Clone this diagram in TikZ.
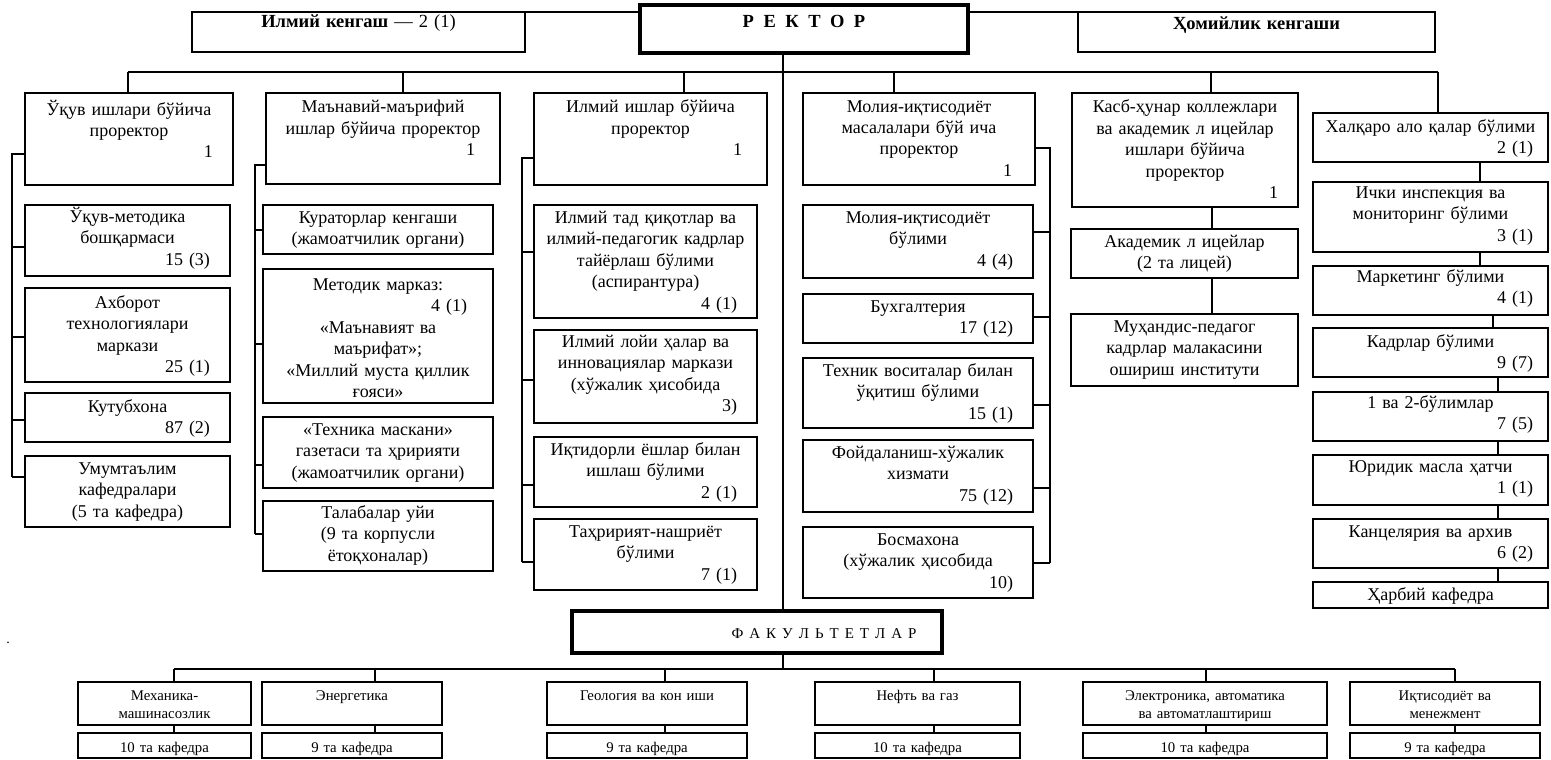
\documentclass[tikz,border=0pt]{standalone}
\usepackage{fontspec}
\setmainfont{Liberation Serif}
\newcommand\fsm{\fontsize{14.8}{18}\selectfont}
\newcommand\ftop{\fontsize{18.5}{21}\selectfont}
\tikzset{
  box/.style={draw, fill=white, line width=1.4pt, inner sep=0pt, outer sep=0pt},
  thickbox/.style={line width=3.6pt},
  txt/.style={inner sep=0pt, outer sep=0pt, align=center, font=\fontsize{18}{21.5}\selectfont},
  fac/.style={font=\fsm},
  ln/.style={line width=1.4pt},
}
\newcommand\lsp{\hspace{9.5pt}}
\newcommand\rn[2][15pt]{\mbox{}\hskip 0pt plus 1fill\relax #2\rule{#1}{0pt}}
% \bx[options]{name}{x1}{y1}{x2}{y2}{first baseline offset}{text}
\newcommand\bx[8][]{%
  \pgfmathsetmacro\bw{#5-#3}\pgfmathsetmacro\bh{#6-#4}%
  \pgfmathsetmacro\bcx{(#3+#5)/2}\pgfmathsetmacro\bcy{(#4+#6)/2}%
  \pgfmathsetmacro\tw{#5-#3-10}\pgfmathsetmacro\ty{#4+#7-16}%
  \node[box,#1,minimum width=\bw pt,minimum height=\bh pt] (#2) at (\bcx,\bcy) {};
  \node[txt,#1,draw=none,fill=none,text width=\tw pt,anchor=north] (#2t) at (\bcx,\ty) {\rule{0pt}{16pt}#8};}
\newcommand\br[4]{\coordinate (#1) at (#2,#3); \draw[ln] (#1) -- (#1 -| #4);}
\begin{document}
\begin{tikzpicture}[x=1pt,y=-1pt]
\useasboundingbox (0,0) rectangle (1551,760);

% ---------- top row
\bx{ik}{192}{12}{525}{52}{16}{\ftop\textbf{Илмий кенгаш} — 2 (1)}
\bx[thickbox]{re}{640}{5}{968}{53}{23}{\ftop\textbf{Р\lsp Е\lsp К\lsp Т\lsp О\lsp Р}}
\bx{ho}{1078}{12}{1435}{52}{18}{\ftop\textbf{Ҳомийлик кенгаши}}
\draw[ln] (ik.north east) -- (ik.north east -| re.west);
\draw[ln] (ho.north west) -- (ho.north west -| re.east);

% ---------- prorectors
\bx{uq}{25}{93}{233}{185}{22}{Ўқув ишлари бўйича\\проректор\\\rn{1}}
\bx{mm}{266}{93}{500}{184}{20}{Маънавий-маърифий\\ишлар бўйича проректор\\\rn[20pt]{1}}
\bx{il}{534}{93}{767}{185}{20}{Илмий ишлар бўйича\\проректор\\\rn[20pt]{1}}
\bx{mo}{803}{93}{1035}{185}{19}{Молия-иқтисодиёт\\масалалари бўй ича\\проректор\\\rn[18pt]{1}}
\bx{kb}{1072}{93}{1298}{207}{20}{Касб-ҳунар коллежлари\\ва академик л ицейлар\\ишлари бўйича\\проректор\\\rn{1}}
\bx{xa}{1313}{113}{1548}{162}{19}{Халқаро ало қалар бўлими\\\rn[10pt]{2 (1)}}

% ---------- column 1
\bx{um}{25}{205}{230}{276}{17}{Ўқув-методика\\бошқармаси\\\rn{15 (3)}}
\bx{ax}{25}{288}{230}{382}{20}{Ахборот\\технологиялари\\маркази\\\rn{25 (1)}}
\bx{ku}{25}{393}{230}{442}{19}{Кутубхона\\\rn{87 (2)}}
\bx{ut}{25}{456}{230}{527}{18}{Умумтаълим\\кафедралари\\(5 та кафедра)}

% ---------- column 2
\bx{kk}{263}{205}{493}{254}{18}{Кураторлар кенгаши\\(жамоатчилик органи)}
\bx{mt}{263}{269}{493}{403}{21}{Методик марказ:\\\rn[21pt]{4 (1)}\\«Маънавият ва\\маърифат»;\\«Миллий муста қиллик\\ғояси»}
\bx{tm}{263}{417}{493}{488}{18}{«Техника маскани»\\газетаси та ҳририяти\\(жамоатчилик органи)}
\bx{tu}{263}{501}{493}{571}{17}{Талабалар уйи\\(9 та корпусли\\ётоқхоналар)}

% ---------- column 3
\bx{it}{534}{205}{757}{318}{18}{Илмий тад қиқотлар ва\\илмий-педагогик кадрлар\\тайёрлаш бўлими\\(аспирантура)\\\rn{4 (1)}}
\bx{lo}{534}{330}{757}{423}{17}{Илмий лойи ҳалар ва\\инновациялар маркази\\(хўжалик ҳисобида\\\rn{3)}}
\bx{iq}{534}{437}{757}{507}{18}{Иқтидорли ёшлар билан\\ишлаш бўлими\\\rn{2 (1)}}
\bx{ta}{534}{519}{757}{590}{18}{Таҳририят-нашриёт\\бўлими\\\rn{7 (1)}}

% ---------- column 4
\bx{mb}{803}{205}{1033}{278}{18}{Молия-иқтисодиёт\\бўлими\\\rn{4 (4)}}
\bx{bu}{803}{294}{1033}{343}{18}{Бухгалтерия\\\rn{17 (12)}}
\bx{te}{803}{358}{1033}{428}{18}{Техник воситалар билан\\ўқитиш бўлими\\\rn{15 (1)}}
\bx{fo}{803}{440}{1033}{512}{18}{Фойдаланиш-хўжалик\\хизмати\\\rn{75 (12)}}
\bx{bo}{803}{527}{1033}{598}{18}{Босмахона\\(хўжалик ҳисобида\\\rn{10)}}

% ---------- column 5
\bx{al}{1071}{229}{1298}{278}{18}{Академик л ицейлар\\(2 та лицей)}
\bx{mu}{1071}{314}{1298}{386}{18}{Муҳандис-педагог\\кадрлар малакасини\\ошириш институти}

% ---------- column 6
\bx{ic}{1313}{182}{1548}{252}{16}{Ички инспекция ва\\мониторинг бўлими\\\rn[10pt]{3 (1)}}
\bx{ma}{1313}{266}{1548}{315}{16}{Маркетинг бўлими\\\rn[10pt]{4 (1)}}
\bx{kd}{1313}{328}{1548}{377}{19}{Кадрлар бўлими\\\rn[10pt]{9 (7)}}
\bx{bb}{1313}{392}{1548}{441}{16}{1 ва 2-бўлимлар\\\rn[10pt]{7 (5)}}
\bx{yu}{1313}{455}{1548}{505}{17}{Юридик масла ҳатчи\\\rn[10pt]{1 (1)}}
\bx{kn}{1313}{519}{1548}{568}{18}{Канцелярия ва архив\\\rn[10pt]{6 (2)}}
\bx{hb}{1313}{582}{1548}{608}{18}{Ҳарбий кафедра}

% ---------- faculties
\bx[thickbox]{fa}{572}{611}{942}{653}{27}{\fontsize{15}{18}\selectfont\hspace*{134pt}Ф А К У Л Ь Т Е Т Л А Р}
\bx[fac]{f1}{78}{682}{251}{725}{18}{Механика-\\машинасозлик}
\bx[fac]{k1}{78}{733}{251}{758}{19}{10 та кафедра}
\bx[fac]{f2}{262}{682}{442}{725}{18}{Энергетика}
\bx[fac]{k2}{262}{733}{442}{758}{19}{9 та кафедра}
\bx[fac]{f3}{547}{682}{747}{725}{18}{Геология ва кон иши}
\bx[fac]{k3}{547}{733}{747}{758}{19}{9 та кафедра}
\bx[fac]{f4}{815}{682}{1020}{725}{18}{Нефть ва газ}
\bx[fac]{k4}{815}{733}{1020}{758}{19}{10 та кафедра}
\bx[fac]{f5}{1083}{682}{1327}{725}{18}{Электроника, автоматика\\ва автоматлаштириш}
\bx[fac]{k5}{1083}{733}{1327}{758}{19}{10 та кафедра}
\bx[fac]{f6}{1350}{682}{1540}{725}{18}{Иқтисодиёт ва\\менежмент}
\bx[fac]{k6}{1350}{733}{1540}{758}{19}{9 та кафедра}

\node[txt, font=\fontsize{14}{16}\selectfont, anchor=base] (dot) at (8,643) {.};

% ---------- top bus
\coordinate (b1) at (128,72);  \coordinate (b2) at (403,72);
\coordinate (b3) at (684,72);  \coordinate (b4) at (894,72);
\coordinate (b5) at (1211,72); \coordinate (b6) at (1438,72);
\coordinate (rv) at (783,72);
\draw[ln] (b1) -- (b6);
\draw[ln] (b1) -- (b1 |- uq.north);
\draw[ln] (b2) -- (b2 |- mm.north);
\draw[ln] (b3) -- (b3 |- il.north);
\draw[ln] (b4) -- (b4 |- mo.north);
\draw[ln] (b5) -- (b5 |- kb.north);
\draw[ln] (b6) -- (b6 |- xa.north);
\draw[ln] (re.south -| rv) -- (fa.north -| rv);

% ---------- column spines
\coordinate (us0) at (12,154);
\br{us1}{12}{247}{um.west} \br{us2}{12}{337}{ax.west}
\br{us3}{12}{420}{ku.west} \br{us4}{12}{477}{ut.west}
\draw[ln] (us0 -| uq.west) -- (us0) -- (us4);

\coordinate (ms0) at (255,165);
\br{ms1}{255}{230}{kk.west} \br{ms2}{255}{344}{mt.west}
\br{ms3}{255}{465}{tm.west} \br{ms4}{255}{534}{tu.west}
\draw[ln] (ms0 -| mm.west) -- (ms0) -- (ms4);

\coordinate (is0) at (522,158);
\br{is1}{522}{252}{it.west} \br{is2}{522}{380}{lo.west}
\br{is3}{522}{485}{iq.west} \br{is4}{522}{562}{ta.west}
\draw[ln] (is0 -| il.west) -- (is0) -- (is4);

\coordinate (os0) at (1050,148);
\br{os1}{1050}{232}{mb.east} \br{os2}{1050}{317}{bu.east}
\br{os3}{1050}{405}{te.east} \br{os4}{1050}{488}{fo.east}
\br{os5}{1050}{563}{bo.east}
\draw[ln] (os0 -| mo.east) -- (os0) -- (os5);

\coordinate (kx) at (1212,0);
\draw[ln] (kb.south -| kx) -- (al.north -| kx);
\draw[ln] (al.south -| kx) -- (mu.north -| kx);

\coordinate (r1) at (1480,0); \coordinate (r2) at (1493,0); \coordinate (r3) at (1498,0);
\draw[ln] (xa.south -| r1) -- (ic.north -| r1);
\draw[ln] (ic.south -| r1) -- (ma.north -| r1);
\draw[ln] (ma.south -| r2) -- (kd.north -| r2);
\draw[ln] (kd.south -| r3) -- (bb.north -| r3);
\draw[ln] (bb.south -| r3) -- (yu.north -| r3);
\draw[ln] (yu.south -| r3) -- (kn.north -| r3);
\draw[ln] (kn.south -| r3) -- (hb.north -| r3);

% ---------- faculty bus
\coordinate (fb) at (783,669);
\draw[ln] (fa.south -| rv) -- (fb);
\coordinate (fd1) at (174,669);  \coordinate (fd2) at (375,669);
\coordinate (fd3) at (665,669);  \coordinate (fd4) at (934,669);
\coordinate (fd5) at (1206,669); \coordinate (fd6) at (1455,669);
\draw[ln] (fd1) -- (fd6);
\foreach \i in {1,...,6}{
  \draw[ln] (fd\i) -- (fd\i |- f\i.north);
  \draw[ln] (f\i.south -| fd\i) -- (k\i.north -| fd\i);
}
\end{tikzpicture}
\end{document}
